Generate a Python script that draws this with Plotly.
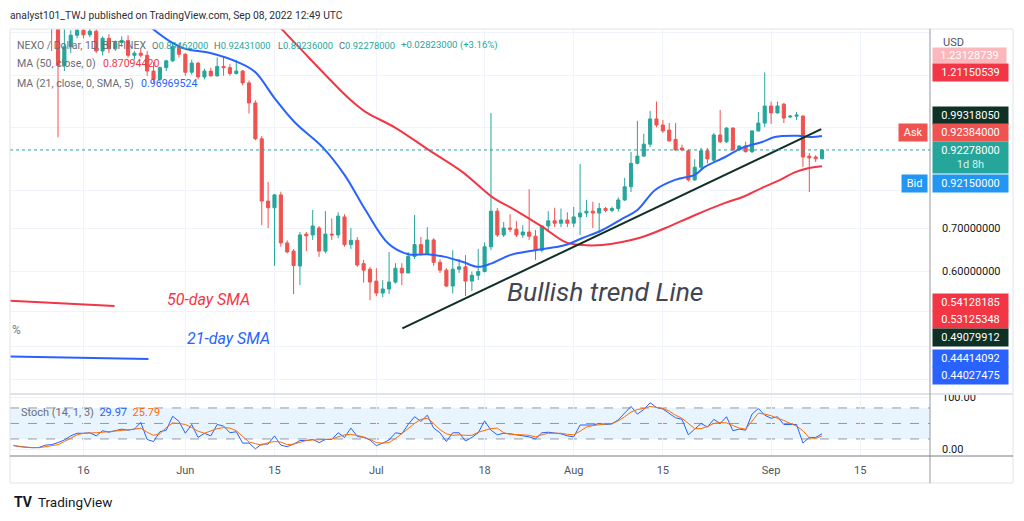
import math
import pandas as pd
import plotly.graph_objects as go

# ---------------- data ----------------
candle_start = "2022-05-11"
opens = [1.62, 1.46, 1.245, 1.33, 1.385, 1.41, 1.387, 1.405, 1.31, 1.37,
         1.32, 1.35, 1.36, 1.29, 1.30, 1.29, 1.22, 1.185, 1.235, 1.265,
         1.33, 1.295, 1.215, 1.255, 1.195, 1.22, 1.20, 1.24, 1.235, 1.21,
         1.22, 1.17, 1.09, 0.96, 0.77, 0.752, 0.787, 0.664, 0.645, 0.612,
         0.685, 0.683, 0.70, 0.645, 0.685, 0.683, 0.728, 0.66, 0.67, 0.617,
         0.605, 0.58, 0.556, 0.564, 0.578, 0.607, 0.597, 0.633, 0.66, 0.64,
         0.671, 0.62, 0.603, 0.57, 0.605, 0.61, 0.58, 0.592, 0.60, 0.655,
         0.743, 0.683, 0.70, 0.697, 0.683, 0.69, 0.68, 0.647, 0.705, 0.718,
         0.712, 0.72, 0.712, 0.728, 0.738, 0.743, 0.738, 0.75, 0.745, 0.75,
         0.773, 0.81, 0.88, 0.903, 0.942, 1.03, 1.008, 0.99, 0.958, 0.929,
         0.92, 0.83, 0.868, 0.92, 0.89, 0.973, 0.95, 0.997, 0.923, 0.936,
         0.917, 0.987, 1.015, 1.078, 1.052, 1.085, 1.037, 1.04, 1.04, 0.903,
         0.90, 0.89462]
highs = [1.66, 1.50, 1.43, 1.41, 1.43, 1.43, 1.42, 1.415, 1.38, 1.39,
         1.36, 1.38, 1.385, 1.31, 1.32, 1.31, 1.26, 1.24, 1.27, 1.35,
         1.345, 1.30, 1.27, 1.26, 1.23, 1.235, 1.28, 1.285, 1.25, 1.27,
         1.225, 1.18, 1.10, 0.97, 0.824, 0.79, 0.796, 0.67, 0.65, 0.69,
         0.69, 0.746, 0.705, 0.743, 0.724, 0.74, 0.735, 0.70, 0.678, 0.625,
         0.61, 0.607, 0.582, 0.643, 0.618, 0.618, 0.643, 0.733, 0.678, 0.702,
         0.675, 0.627, 0.607, 0.647, 0.627, 0.636, 0.60, 0.65, 0.665, 1.052,
         0.751, 0.715, 0.735, 0.718, 0.707, 0.803, 0.695, 0.707, 0.743, 0.752,
         0.75, 0.74, 0.754, 0.878, 0.773, 0.768, 0.765, 0.754, 0.755, 0.78,
         0.836, 0.916, 1.023, 0.977, 1.06, 1.095, 1.026, 1.015, 1.015, 0.94,
         0.925, 0.893, 0.93, 0.929, 0.98, 1.063, 1.0, 1.0, 0.937, 0.95,
         0.99, 1.056, 1.214, 1.095, 1.095, 1.09, 1.044, 1.056, 1.045, 0.913,
         0.906, 0.92431]
lows = [1.31, 0.965, 1.22, 1.30, 1.37, 1.37, 1.375, 1.30, 1.29, 1.30,
        1.31, 1.33, 1.28, 1.27, 1.28, 1.20, 1.17, 1.175, 1.22, 1.26,
        1.28, 1.20, 1.205, 1.185, 1.185, 1.195, 1.195, 1.20, 1.20, 1.205,
        1.16, 1.05, 0.955, 0.707, 0.70, 0.612, 0.655, 0.64, 0.554, 0.572,
        0.645, 0.671, 0.632, 0.64, 0.671, 0.675, 0.655, 0.65, 0.61, 0.577,
        0.542, 0.55, 0.548, 0.554, 0.575, 0.572, 0.597, 0.627, 0.635, 0.638,
        0.612, 0.597, 0.568, 0.555, 0.597, 0.55, 0.56, 0.582, 0.598, 0.647,
        0.678, 0.678, 0.69, 0.678, 0.676, 0.671, 0.625, 0.642, 0.695, 0.702,
        0.702, 0.702, 0.702, 0.683, 0.728, 0.70, 0.688, 0.74, 0.74, 0.742,
        0.77, 0.795, 0.877, 0.90, 0.932, 1.0, 0.98, 0.95, 0.92, 0.918,
        0.825, 0.827, 0.86, 0.88, 0.885, 0.946, 0.946, 0.92, 0.92, 0.915,
        0.913, 0.985, 1.0, 1.012, 1.05, 1.015, 1.033, 1.026, 0.869, 0.795,
        0.884, 0.89236]
closes = [1.46, 1.245, 1.33, 1.385, 1.41, 1.387, 1.405, 1.31, 1.37, 1.32,
          1.35, 1.36, 1.29, 1.30, 1.29, 1.22, 1.185, 1.235, 1.265, 1.33,
          1.295, 1.215, 1.255, 1.195, 1.22, 1.20, 1.24, 1.235, 1.21, 1.22,
          1.17, 1.09, 0.96, 0.77, 0.752, 0.787, 0.664, 0.643, 0.613, 0.683,
          0.681, 0.705, 0.645, 0.685, 0.683, 0.73, 0.66, 0.67, 0.614, 0.603,
          0.578, 0.556, 0.564, 0.578, 0.607, 0.597, 0.633, 0.66, 0.64, 0.671,
          0.62, 0.603, 0.57, 0.605, 0.61, 0.58, 0.592, 0.60, 0.655, 0.743,
          0.683, 0.70, 0.697, 0.683, 0.69, 0.68, 0.647, 0.705, 0.718, 0.712,
          0.72, 0.712, 0.728, 0.738, 0.743, 0.738, 0.75, 0.745, 0.75, 0.773,
          0.81, 0.88, 0.903, 0.942, 1.03, 1.008, 0.987, 0.953, 0.923, 0.923,
          0.83, 0.868, 0.92, 0.894, 0.973, 0.95, 0.997, 0.923, 0.936, 0.917,
          0.987, 1.015, 1.078, 1.052, 1.078, 1.033, 1.04, 1.044, 0.90, 0.897,
          0.89455, 0.92278]

ma50_dates = ["2022-06-15 02:00", "2022-06-18 19:00", "2022-06-26 22:00", "2022-06-29 07:00",
              "2022-07-04", "2022-07-09 05:00", "2022-07-14 12:00", "2022-07-19 05:00",
              "2022-07-22 19:00", "2022-07-27 02:00", "2022-07-30 17:00", "2022-08-02 07:00",
              "2022-08-05 12:00", "2022-08-08 14:00", "2022-08-11 19:00", "2022-08-15 10:00",
              "2022-08-20 02:00", "2022-08-24 19:00", "2022-08-27 22:00", "2022-08-30 14:00",
              "2022-09-02 02:00", "2022-09-04 19:00", "2022-09-06 19:00", "2022-09-09"]
ma50_vals = [1.452, 1.329, 1.102, 1.056, 0.998, 0.923, 0.854, 0.781, 0.746, 0.703, 0.666, 0.659,
             0.659, 0.666, 0.678, 0.700, 0.733, 0.765, 0.784, 0.807, 0.827, 0.853, 0.865, 0.87094420]

ma21_dates = ["2022-05-26 12:00", "2022-05-29 17:00", "2022-06-01", "2022-06-04 22:00",
              "2022-06-09 14:00", "2022-06-12", "2022-06-15", "2022-06-18 07:00",
              "2022-06-22 12:00", "2022-06-26", "2022-06-29 07:00", "2022-07-02 22:00",
              "2022-07-06", "2022-07-09", "2022-07-11 19:00", "2022-07-14 12:00",
              "2022-07-17", "2022-07-19", "2022-07-22", "2022-07-26",
              "2022-07-30 17:00", "2022-08-02 07:00", "2022-08-05 12:00", "2022-08-08 14:00",
              "2022-08-11", "2022-08-13 19:00", "2022-08-16 22:00", "2022-08-20",
              "2022-08-21 14:00", "2022-08-24 19:00", "2022-08-27 12:00", "2022-08-30 14:00",
              "2022-09-01 14:00", "2022-09-05 05:00", "2022-09-07 10:00", "2022-09-09"]
ma21_vals = [1.426, 1.353, 1.32, 1.301, 1.255, 1.215, 1.109, 1.015, 0.933, 0.845, 0.746, 0.662,
             0.638, 0.638, 0.632, 0.621, 0.61, 0.617, 0.636, 0.647, 0.659, 0.675, 0.695, 0.723,
             0.746, 0.801, 0.830, 0.845, 0.869, 0.90, 0.93, 0.949, 0.966, 0.970, 0.966, 0.96969524]

trend_dates = ["2022-07-05 02:00", "2022-09-08 21:00"]
trend_vals = [0.49079912, 0.99318050]
red_ray_dates = ["2022-05-04 12:00", "2022-05-20 21:00"]
red_ray_vals = [0.54128185, 0.53125348]
blue_ray_dates = ["2022-05-04 12:00", "2022-05-26 05:00"]
blue_ray_vals = [0.44414092, 0.44027475]

stoch_start = "2022-05-05"
stoch_k = [7, 5, 4, 3, 3.5, 8, 9, 13, 18, 26, 31,
           31, 32, 26, 36, 33, 36, 39, 37, 39, 52,
           19, 15, 34, 37, 64, 54, 31, 48, 23, 31,
           26, 48, 45, 32, 34, 12, 12, 1, 10, 10,
           26, 8, 5, 10, 17, 17, 19, 13, 19, 19,
           32, 23, 41, 25, 23, 18, 7, 12, 18, 32,
           30, 48, 63, 54, 66, 41, 32, 15, 32, 32,
           16, 23, 32, 55, 37, 28, 31, 30, 28, 27,
           24, 20, 32, 33, 31, 30, 26, 24, 47, 47,
           47, 50, 48, 49, 57, 70, 83, 68, 77, 90,
           81, 78, 70, 61, 58, 28, 39, 50, 43, 58,
           50, 63, 36, 39, 37, 68, 79, 66, 60, 63,
           48, 48, 48, 12, 23, 23, 29.97]
stoch_d = [8, 5, 4, 3, 3, 5, 7, 9, 15, 21, 28,
           31, 31, 32, 33, 34, 36, 37, 38, 39, 41,
           33, 27, 30, 42, 51, 50, 48, 42, 35, 31,
           35, 40, 42, 41, 36, 25, 14, 11, 8, 13,
           15, 14, 9, 10, 13, 17, 18, 18, 19, 20,
           24, 28, 29, 27, 24, 19, 13, 12, 13, 21,
           30, 40, 50, 58, 60, 50, 38, 30, 27, 28,
           27, 27, 33, 37, 40, 41, 32, 29, 29, 28,
           27, 24, 28, 31, 31, 31, 29, 28, 35, 43,
           46, 48, 49, 50, 55, 63, 72, 77, 79, 83,
           81, 79, 74, 66, 60, 50, 40, 40, 44, 50,
           52, 51, 46, 41, 39, 55, 70, 68, 65, 60,
           56, 50, 45, 36, 22, 21, 25.79]

tick_dates = ["2022-05-16", "2022-06-01", "2022-06-15", "2022-07-01", "2022-07-18",
              "2022-08-01", "2022-08-15", "2022-09-01", "2022-09-15"]
tick_labels = ["16", "Jun", "15", "Jul", "18", "Aug", "15", "Sep", "15"]

price_grid = [0.41, 0.46, 0.52, 0.6, 0.7, 0.8, 1.0, 1.2, 1.4]
price_grid_labels = ["", "", "", "0.60000000", "0.70000000", "", "", "", ""]

legend_items = ["O", "H", "L", "C"]
legend_values = ["0.89462000", "0.92431000", "0.89236000", "0.92278000"]
legend_change = "+0.02823000 (+3.16%)"

last_price = 0.92278
ask_price = 0.92384
bid_price = 0.92150

# ---------------- styling / layout helpers ----------------
GREEN = "#26a69a"
RED = "#ef5350"
RED_MA = "#f23645"
BLUE = "#2962ff"
ORANGE = "#ff6d00"
DARK = "#0f3024"
GRID = "#f0f3fa"
TXT = "#131722"
FONT = "Roboto"

PL, PR, PT, PB = 10, 930, 29, 456


def px(xp):
    return (xp - PL) / (PR - PL)


def py(yp):
    return (PB - yp) / (PB - PT)


candle_dates = pd.date_range(candle_start, periods=len(closes), freq="D")
stoch_dates = pd.date_range(stoch_start, periods=len(stoch_k), freq="D")
x_range = ["2022-05-04 11:00", "2022-09-25 23:00"]

fig = go.Figure()

# stochastic band
fig.add_shape(type="rect", xref="x2", yref="y2", x0=x_range[0], x1=x_range[1], y0=20, y1=80,
              fillcolor="rgba(33,150,243,0.10)", line_width=0, layer="below")
for lvl in (20, 50, 80):
    fig.add_shape(type="line", xref="x2", yref="y2", x0=x_range[0], x1=x_range[1], y0=lvl, y1=lvl,
                  line=dict(color="#9598a1", width=1, dash="dash"), layer="below")

fig.add_trace(go.Candlestick(
    x=candle_dates, open=opens, high=highs, low=lows, close=closes,
    increasing=dict(line=dict(color=GREEN, width=1), fillcolor=GREEN),
    decreasing=dict(line=dict(color=RED, width=1), fillcolor=RED),
    whiskerwidth=0, xaxis="x", yaxis="y", showlegend=False, hoverinfo="skip"))

fig.add_trace(go.Scatter(x=ma50_dates, y=ma50_vals, mode="lines", line=dict(color=RED_MA, width=2, shape="spline"),
                         xaxis="x", yaxis="y", showlegend=False, hoverinfo="skip"))
fig.add_trace(go.Scatter(x=ma21_dates, y=ma21_vals, mode="lines", line=dict(color=BLUE, width=2, shape="spline"),
                         xaxis="x", yaxis="y", showlegend=False, hoverinfo="skip"))
fig.add_trace(go.Scatter(x=trend_dates, y=trend_vals, mode="lines", line=dict(color=DARK, width=2),
                         xaxis="x", yaxis="y", showlegend=False, hoverinfo="skip"))
fig.add_trace(go.Scatter(x=red_ray_dates, y=red_ray_vals, mode="lines", line=dict(color=RED_MA, width=2),
                         xaxis="x", yaxis="y", showlegend=False, hoverinfo="skip"))
fig.add_trace(go.Scatter(x=blue_ray_dates, y=blue_ray_vals, mode="lines", line=dict(color=BLUE, width=2),
                         xaxis="x", yaxis="y", showlegend=False, hoverinfo="skip"))
fig.add_trace(go.Scatter(x=x_range, y=[last_price, last_price], mode="lines",
                         line=dict(color=GREEN, width=1, dash="dot"),
                         xaxis="x", yaxis="y", showlegend=False, hoverinfo="skip"))

fig.add_trace(go.Scatter(x=stoch_dates, y=stoch_k, mode="lines", line=dict(color=BLUE, width=1),
                         xaxis="x2", yaxis="y2", showlegend=False, hoverinfo="skip"))
fig.add_trace(go.Scatter(x=stoch_dates, y=stoch_d, mode="lines", line=dict(color=ORANGE, width=1),
                         xaxis="x2", yaxis="y2", showlegend=False, hoverinfo="skip"))

axis_font = dict(family=FONT, size=11, color=TXT)

fig.update_layout(
    width=1024, height=521,
    margin=dict(l=PL, r=1024 - PR, t=PT, b=521 - PB),
    paper_bgcolor="white", plot_bgcolor="white",
    showlegend=False,
    font=dict(family=FONT, size=11, color=TXT),
    xaxis=dict(domain=[0, 1], anchor="y", type="date", range=x_range, matches="x2",
               tickmode="array", tickvals=tick_dates, ticktext=tick_labels, showticklabels=False,
               showgrid=True, gridcolor=GRID, gridwidth=1, zeroline=False, showline=False,
               rangeslider=dict(visible=False), fixedrange=True),
    yaxis=dict(domain=[py(393), 1], anchor="x", type="log", side="right",
               range=[math.log10(0.3903), math.log10(1.416)],
               tickmode="array", tickvals=price_grid, ticktext=price_grid_labels,
               showgrid=True, gridcolor=GRID, gridwidth=1, zeroline=False, showline=False,
               ticks="", ticklabelstandoff=11, tickfont=axis_font, fixedrange=True),
    xaxis2=dict(domain=[0, 1], anchor="y2", type="date", range=x_range,
                tickmode="array", tickvals=tick_dates, ticktext=tick_labels,
                showgrid=True, gridcolor=GRID, gridwidth=1, zeroline=False, showline=False,
                ticks="", ticklabelstandoff=6, tickfont=dict(family=FONT, size=11, color="#50535e"),
                fixedrange=True),
    yaxis2=dict(domain=[0, py(395)], anchor="x2", range=[-13, 105.1], side="right",
                tickmode="array", tickvals=[0, 100], ticktext=["0.00", "100.00"],
                showgrid=True, gridcolor=GRID, zeroline=False, showline=False,
                ticks="", ticklabelstandoff=11, tickfont=axis_font, fixedrange=True),
)

# frame, separators and axis lines
fig.add_shape(type="rect", xref="paper", yref="paper", x0=px(10), x1=px(1013), y0=py(29), y1=py(483),
              line=dict(color="#e0e3eb", width=1), layer="above")
fig.add_shape(type="line", xref="paper", yref="paper", x0=px(10), x1=px(1013), y0=py(394), y1=py(394),
              line=dict(color="#e0e3eb", width=2), layer="above")
fig.add_shape(type="line", xref="paper", yref="paper", x0=px(930), x1=px(930), y0=py(29), y1=py(483),
              line=dict(color="#9598a1", width=1), layer="above")
fig.add_shape(type="line", xref="paper", yref="paper", x0=px(10), x1=px(1013), y0=py(456), y1=py(456),
              line=dict(color="#787b86", width=1), layer="above")


# ---------------- texts ----------------
def note(text, x, y, size=11, color=TXT, xanchor="left", yanchor="middle", **kw):
    fig.add_annotation(text=text, xref="paper", yref="paper", x=x, y=y, showarrow=False,
                       xanchor=xanchor, yanchor=yanchor,
                       font=dict(family=FONT, size=size, color=color), **kw)


gray = "#6a6d78"
note("analyst101_TWJ published on TradingView.com, Sep 08, 2022 12:49 UTC", px(8), py(16), size=10.3,
     color="#2a2e39")
note("NEXO / Dollar, 1D, BITFINEX", px(15), py(45), size=10.5, color=gray)
for item, val, xpos in zip(legend_items, legend_values, (150, 212, 276, 337)):
    note(f"{item}<span style='color:{GREEN}'>{val}</span>", px(xpos), py(45), size=9.4, color=gray)
note(legend_change, px(399), py(45), size=9.6, color=GREEN)
note("MA (50, close, 0)", px(15), py(63.5), size=10.6, color=gray)
note("0.87094420", px(101), py(63.5), size=10.6, color=RED_MA)
note("MA (21, close, 0, SMA, 5)", px(15), py(83), size=10.6, color=gray)
note("0.96969524", px(139), py(83), size=10.6, color=BLUE)

note("USD", px(941), py(42), size=11, color="#50535e")

note("<i>50-day SMA</i>", px(165), py(299), size=16, color=RED_MA)
note("<i>21-day SMA</i>", px(185), py(339), size=16, color=BLUE)
note("<i>Bullish trend Line</i>", px(505), py(291), size=26.5, color="#434651")
note("%", px(10), py(330), size=12, color="#787b86")

note("Stoch (14, 1, 3)  "
     f"<span style='color:{BLUE}'>29.97</span>  <span style='color:{ORANGE}'>25.79</span>",
     px(19), py(412), size=11, color=gray)

note("<b>TV</b>", px(12), py(502), size=14, color=TXT)
note("TradingView", px(36), py(502), size=13.5, color=TXT)


# price-scale labels, anchored on their prices
def scale_label(value, text, bg, shift, opacity=1.0, pad=2):
    fig.add_annotation(text=text, xref="paper", yref="y", x=px(932), y=math.log10(value),
                       xanchor="left", yanchor="middle", yshift=shift, showarrow=False,
                       width=71, align="center", bgcolor=bg, borderpad=pad, opacity=opacity,
                       font=dict(family=FONT, size=11, color="white"))


scale_label(1.23128739, "1.23128739", RED_MA, 13, opacity=0.35, pad=1)
scale_label(1.21150539, "1.21150539", RED_MA, 0.5)
scale_label(0.99318050, "0.99318050", DARK, 13.5)
scale_label(ask_price, "0.92384000", RED, 17.4)
scale_label(last_price, "0.92278000<br><span style='color:#d4f0ec'>1d 8h</span>", GREEN, -8)
scale_label(bid_price, "0.92150000", "#2196f3", -32.8)
scale_label(0.54128185, "0.54128185", RED_MA, -1.4)
scale_label(0.53125348, "0.53125348", RED_MA, -14)
scale_label(0.49079912, "0.49079912", DARK, -9)
scale_label(0.44414092, "0.44414092", BLUE, -1.6)
scale_label(0.44027475, "0.44027475", BLUE, -17)


def side_tag(value, text, bg, shift):
    fig.add_annotation(text=text, xref="paper", yref="y", x=px(928), y=math.log10(value),
                       xanchor="right", yanchor="middle", yshift=shift, showarrow=False,
                       bgcolor=bg, borderpad=2, font=dict(family=FONT, size=11, color="white"))


side_tag(ask_price, " Ask ", RED, 17.4)
side_tag(bid_price, " Bid ", "#2196f3", -32.8)

fig.write_html("out.html", config={"displayModeBar": False},
               post_script="document.body.style.margin='0';document.body.style.overflow='hidden';")
